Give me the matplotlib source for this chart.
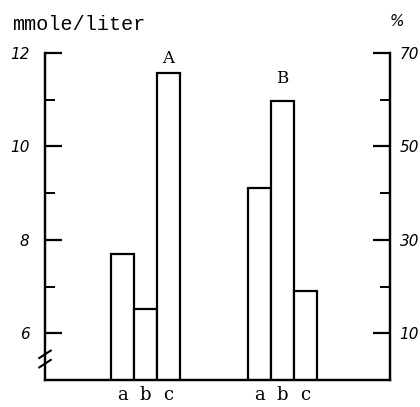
import numpy as np
import matplotlib
matplotlib.use('Agg')
import matplotlib.pyplot as plt

# values
labels = ['a', 'b', 'c']
group_a = [7.7, 6.53, 11.57]      # mmole/liter (left axis)
group_b = [41.0, 59.7, 19.0]      # % (right axis)
pos_a = np.array([3.37, 4.37, 5.37])
pos_b = np.array([9.33, 10.33, 11.33])

fig = plt.figure(figsize=(4.2, 4.07), dpi=100)
ax = fig.add_axes([45 / 420, 27 / 407, 345 / 420, 327 / 407])
ax2 = ax.twinx()

ax.set_xlim(0, 15)
ax.set_ylim(5, 12)
ax2.set_ylim(0, 70)

ax.bar(pos_a, group_a, width=1.0, facecolor='white', edgecolor='black', linewidth=1.6)
ax2.bar(pos_b, group_b, width=1.0, facecolor='white', edgecolor='black', linewidth=1.6)

for a in (ax, ax2):
    a.spines['top'].set_visible(False)
    for s in ('left', 'right', 'bottom'):
        a.spines[s].set_linewidth(1.6)

ax.set_yticks([6, 8, 10, 12])
ax.set_yticklabels(['6', '8', '10', '12'], fontstyle='italic', fontsize=11)
ax.set_yticks([7, 9, 11], minor=True)
ax.tick_params(axis='y', which='major', direction='in', length=12, width=1.6, pad=11)
ax.tick_params(axis='y', which='minor', direction='in', length=7, width=1.4)

ax2.set_yticks([10, 30, 50, 70])
ax2.set_yticklabels(['10', '30', '50', '70'], fontstyle='italic', fontsize=11)
ax2.set_yticks([20, 40, 60], minor=True)
ax2.tick_params(axis='y', which='major', direction='in', length=12, width=1.6, pad=7)
ax2.tick_params(axis='y', which='minor', direction='in', length=7, width=1.4)

ax.set_xticks(np.concatenate([pos_a, pos_b]))
ax.set_xticklabels(labels + labels, family='DejaVu Serif', fontsize=13)
ax.tick_params(axis='x', length=0, pad=4)

ax.text(pos_a[2], group_a[2] + 0.12, 'A', ha='center', va='bottom', family='DejaVu Serif', fontsize=12)
ax2.text(pos_b[1], group_b[1] + 3.0, 'B', ha='center', va='bottom', family='DejaVu Serif', fontsize=12)

fig.text(12 / 420, 1 - 24 / 407, 'mmole/liter', family='Liberation Mono', fontsize=14.5, ha='left', va='center')
fig.text(397 / 420, 1 - 22 / 407, '%', fontstyle='italic', fontsize=11, ha='center', va='center')

# axis break on the left spine
for dy in (-0.1, 0.1):
    ax.plot([-0.25, 0.25], [5.45 + dy - 0.08, 5.45 + dy + 0.08], color='black', lw=1.5, clip_on=False)

fig.savefig('out.png', dpi=100)
